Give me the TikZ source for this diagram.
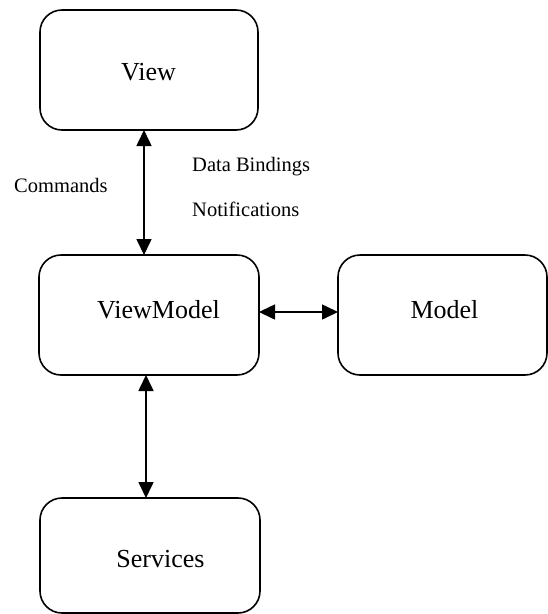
\documentclass[tikz,border=0pt]{standalone}
\usepackage{fontspec}
\setmainfont{Liberation Serif}
\usetikzlibrary{arrows.meta}
\begin{document}
\begin{tikzpicture}[x=1pt,y=-1pt,
  box/.style={draw=black,line width=1.6pt,rounded corners=22pt,
    minimum width=#1,minimum height=120pt,inner sep=0pt,outer sep=0pt},
  boxtext/.style={font=\fontsize{26}{30}\selectfont,inner sep=0pt,anchor=base},
  note/.style={font=\fontsize{20.5}{24}\selectfont,inner sep=0pt,anchor=base west},
  link/.style={line width=1.6pt,{Triangle[length=16pt,width=15pt]}-{Triangle[length=16pt,width=15pt]}}]
\useasboundingbox (0,0) rectangle (548,614);

% boxes
\node[box=218pt] (view) at (149,70) {};
\node[box=220pt] (vm) at (149,315) {};
\node[box=209pt] (model) at (442.5,315) {};
\node[box=220pt,minimum height=115pt] (services) at (150,555.5) {};

% box titles
\node[boxtext] (tview) at (148.5,80) {View};
\node[boxtext] (tvm) at (158.5,318) {ViewModel};
\node[boxtext] (tmodel) at (444.5,318) {Model};
\node[boxtext] (tservices) at (160.5,567) {Services};

% connector labels
\node[note] (cmd) at (14,192) {Commands};
\node[note] (bind) at (192,171) {Data Bindings};
\node[note] (notif) at (192,216) {Notifications};

% two-way connectors
\draw[link] ([xshift=-5pt]view.south) -- ([xshift=-5pt]vm.north);
\draw[link] ([yshift=3pt]vm.east) -- ([yshift=3pt]vm.east -| model.west);
\draw[link] ([xshift=-3pt]vm.south) -- ([xshift=-3pt]vm.south |- services.north);
\end{tikzpicture}
\end{document}
